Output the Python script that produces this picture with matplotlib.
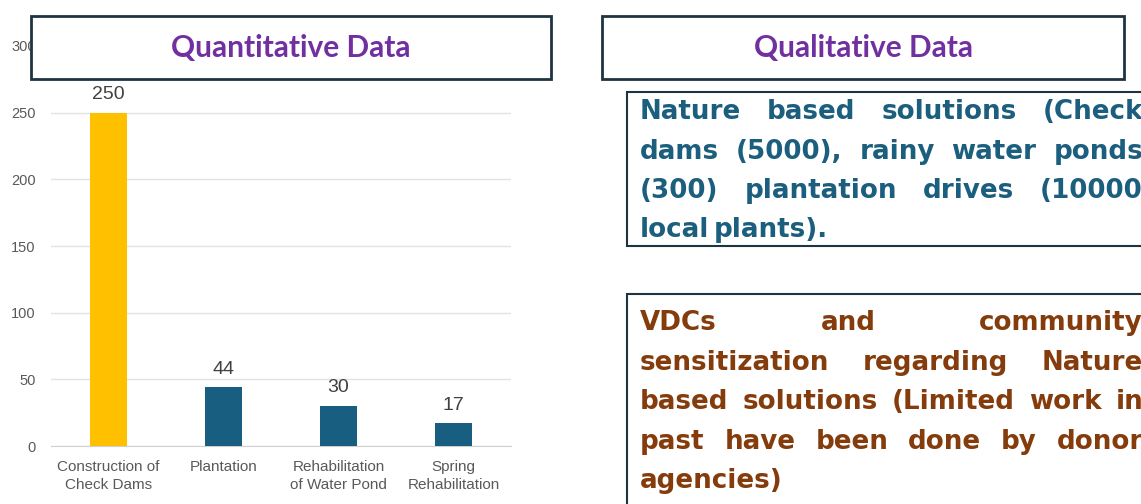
import numpy as np
import matplotlib
matplotlib.use("Agg")
import matplotlib.pyplot as plt
from matplotlib.patches import Rectangle

# chart data
categories = ["Construction of\nCheck Dams", "Plantation",
              "Rehabilitation\nof Water Pond", "Spring\nRehabilitation"]
counts = [250, 44, 30, 17]
bar_colors = ["#FFC000", "#175E80", "#175E80", "#175E80"]
yticks = [0, 50, 100, 150, 200, 250, 300]

# panel texts
left_title = "Quantitative Data"
right_title = "Qualitative Data"
nbs_lines = ["Nature based solutions (Check",
             "dams (5000), rainy water ponds",
             "(300) plantation drives (10000",
             "local plants)."]
vdc_lines = ["VDCs and community",
             "sensitization regarding Nature",
             "based solutions (Limited work in",
             "past have been done by donor",
             "agencies)"]

W, H = 1141, 504
fig = plt.figure(figsize=(W / 100, H / 100), dpi=100)

# bar chart
ax = fig.add_axes([51 / W, 58 / H, 460 / W, 400 / H])
x = np.arange(len(categories))
bars = ax.bar(x, counts, width=0.32, color=bar_colors, zorder=3)
ax.set_xlim(-0.5, len(categories) - 0.5)
ax.set_ylim(0, 300)
ax.set_yticks(yticks)
ax.set_xticks(x)
ax.set_xticklabels(categories, fontsize=11, color="#595959",
                   family="Liberation Sans", linespacing=1.35)
for tl in ax.get_yticklabels():
    tl.set_fontsize(10.5)
    tl.set_color("#595959")
    tl.set_family("Liberation Sans")
ax.tick_params(length=0, axis="y", pad=11)
ax.tick_params(length=0, axis="x", pad=10)
ax.grid(axis="y", color="#E3E3E3", linewidth=1, zorder=0)
for s in ["top", "right", "left"]:
    ax.spines[s].set_visible(False)
ax.spines["bottom"].set_color("#D0D0D0")
for b, v in zip(bars, counts):
    ax.annotate(str(v), (b.get_x() + b.get_width() / 2, v), xytext=(0, 7),
                textcoords="offset points", ha="center", va="bottom",
                fontsize=14, color="#404040", family="Liberation Sans")

# overlay in pixel coordinates
ov = fig.add_axes([0, 0, 1, 1])
ov.set_xlim(0, W)
ov.set_ylim(H, 0)
ov.axis("off")
ov.patch.set_alpha(0)

edge = "#1F3340"
for x0, x1, title in [(31, 551, left_title), (602, 1124, right_title)]:
    ov.add_patch(Rectangle((x0, 16), x1 - x0, 63, facecolor="white",
                           edgecolor=edge, linewidth=2, zorder=5))
    ov.text((x0 + x1) / 2, 48, title, ha="center", va="center", fontsize=21.5,
            fontweight="bold", color="#7030A0", family="Lato", zorder=6)

ov.add_patch(Rectangle((627, 92), 600, 154, facecolor="white",
                       edgecolor=edge, linewidth=1.5, zorder=5))
ov.add_patch(Rectangle((627, 294), 600, 300, facecolor="white",
                       edgecolor=edge, linewidth=1.5, zorder=5))

fig.canvas.draw()
renderer = fig.canvas.get_renderer()


def justified(lines, baselines, color, left=640, right=1143):
    for i, (line, yb) in enumerate(zip(lines, baselines)):
        words = line.split(" ")
        arts = [ov.text(0, yb, w, ha="left", va="baseline", fontsize=18.8,
                        fontweight="bold", color=color, family="DejaVu Sans",
                        zorder=6) for w in words]
        widths = [a.get_window_extent(renderer).width for a in arts]
        last = i == len(lines) - 1
        if last or len(words) == 1:
            gap = 4
        else:
            gap = (right - left - sum(widths)) / (len(words) - 1)
        xpos = left
        for a, w in zip(arts, widths):
            a.set_x(xpos)
            xpos += w + gap


justified(nbs_lines, [119, 159, 198, 237], "#1B5E7E")
justified(vdc_lines, [330, 370, 409, 449, 488], "#843C0C")

fig.savefig("out.png", dpi=100)
